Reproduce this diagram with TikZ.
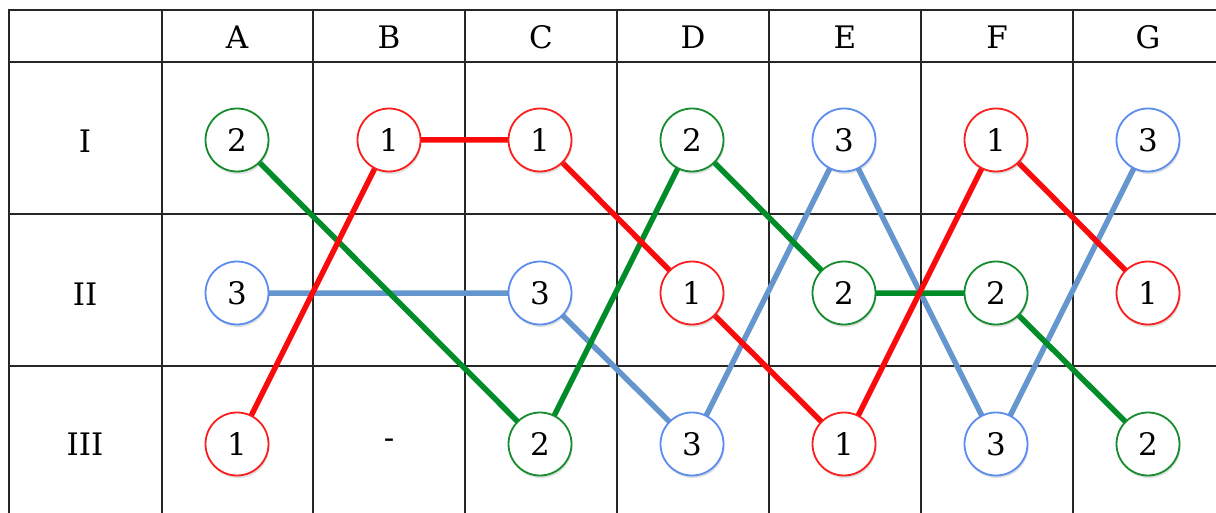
\documentclass[tikz,border=0pt]{standalone}
\usepackage{fontspec}
\setmainfont{DejaVu Serif}
\usetikzlibrary{shadows}
\definecolor{cred}{RGB}{250,30,30}
\definecolor{cgreen}{RGB}{20,140,45}
\definecolor{cblue}{RGB}{90,140,240}
\definecolor{lred}{RGB}{250,10,10}
\definecolor{lgreen}{RGB}{0,140,40}
\definecolor{lblue}{RGB}{100,150,205}
\tikzset{
  grid/.style={line width=1.3pt, black!85},
  lbl/.style={font=\fontsize{31}{38}\selectfont, inner sep=0pt},
  ball/.style={circle, minimum size=63pt, inner sep=0pt, line width=1.8pt, fill=white,
     font=\fontsize{31}{38}\selectfont, drop shadow={opacity=0.25, shadow xshift=1pt, shadow yshift=-2.5pt}},
  rb/.style={ball, draw=cred},
  gb/.style={ball, draw=cgreen},
  bb/.style={ball, draw=cblue},
  rl/.style={line width=5.5pt, lred},
  gl/.style={line width=5.5pt, lgreen},
  bl/.style={line width=5.5pt, lblue},
}
\begin{document}
\begin{tikzpicture}[x=1pt,y=-1pt]
\useasboundingbox (0,0) rectangle (1216,513);
% grid
\draw[grid] (1216,10) -- (9,10) -- (9,513);
\foreach \x in {162,313,465,617,769,921,1073} \draw[grid] (\x,10) -- (\x,513);
\foreach \y in {62,214,366} \draw[grid] (9,\y) -- (1216,\y);
% headers
\node[lbl] (hA) at (237,37) {A};
\node[lbl] (hB) at (389,37) {B};
\node[lbl] (hC) at (541,37) {C};
\node[lbl] (hD) at (693,37) {D};
\node[lbl] (hE) at (845,37) {E};
\node[lbl] (hF) at (997,37) {F};
\node[lbl] (hG) at (1148,37) {G};
\node[lbl] (r1) at (85,141) {I};
\node[lbl] (r2) at (85,294) {II};
\node[lbl] (r3) at (85,444) {III};
\node[lbl] (dash) at (389,444) {-};
% coordinates for circles
\coordinate (pA1) at (237,140); \coordinate (pA2) at (237,293); \coordinate (pA3) at (237,444);
\coordinate (pB1) at (389,140);
\coordinate (pC1) at (540,140); \coordinate (pC2) at (540,293); \coordinate (pC3) at (540,444);
\coordinate (pD1) at (692,140); \coordinate (pD2) at (692,293); \coordinate (pD3) at (692,444);
\coordinate (pE1) at (844,140); \coordinate (pE2) at (844,293); \coordinate (pE3) at (844,444);
\coordinate (pF1) at (996,140); \coordinate (pF2) at (996,293); \coordinate (pF3) at (996,444);
\coordinate (pG1) at (1148,140); \coordinate (pG2) at (1148,293); \coordinate (pG3) at (1148,444);
% lines
\draw[bl] (pA2) -- (pC2) -- (pD3) -- (pE1) -- (pF3) -- (pG1);
\draw[gl] (pA1) -- (pC3) -- (pD1) -- (pE2) -- (pF2) -- (pG3);
\draw[rl] (pA3) -- (pB1) -- (pC1) -- (pD2) -- (pE3) -- (pF1) -- (pG2);
% circles
\node[gb] (A1) at (pA1) {2};
\node[bb] (A2) at (pA2) {3};
\node[rb] (A3) at (pA3) {1};
\node[rb] (B1) at (pB1) {1};
\node[rb] (C1) at (pC1) {1};
\node[bb] (C2) at (pC2) {3};
\node[gb] (C3) at (pC3) {2};
\node[gb] (D1) at (pD1) {2};
\node[rb] (D2) at (pD2) {1};
\node[bb] (D3) at (pD3) {3};
\node[bb] (E1) at (pE1) {3};
\node[gb] (E2) at (pE2) {2};
\node[rb] (E3) at (pE3) {1};
\node[rb] (F1) at (pF1) {1};
\node[gb] (F2) at (pF2) {2};
\node[bb] (F3) at (pF3) {3};
\node[bb] (G1) at (pG1) {3};
\node[rb] (G2) at (pG2) {1};
\node[gb] (G3) at (pG3) {2};
\end{tikzpicture}
\end{document}
